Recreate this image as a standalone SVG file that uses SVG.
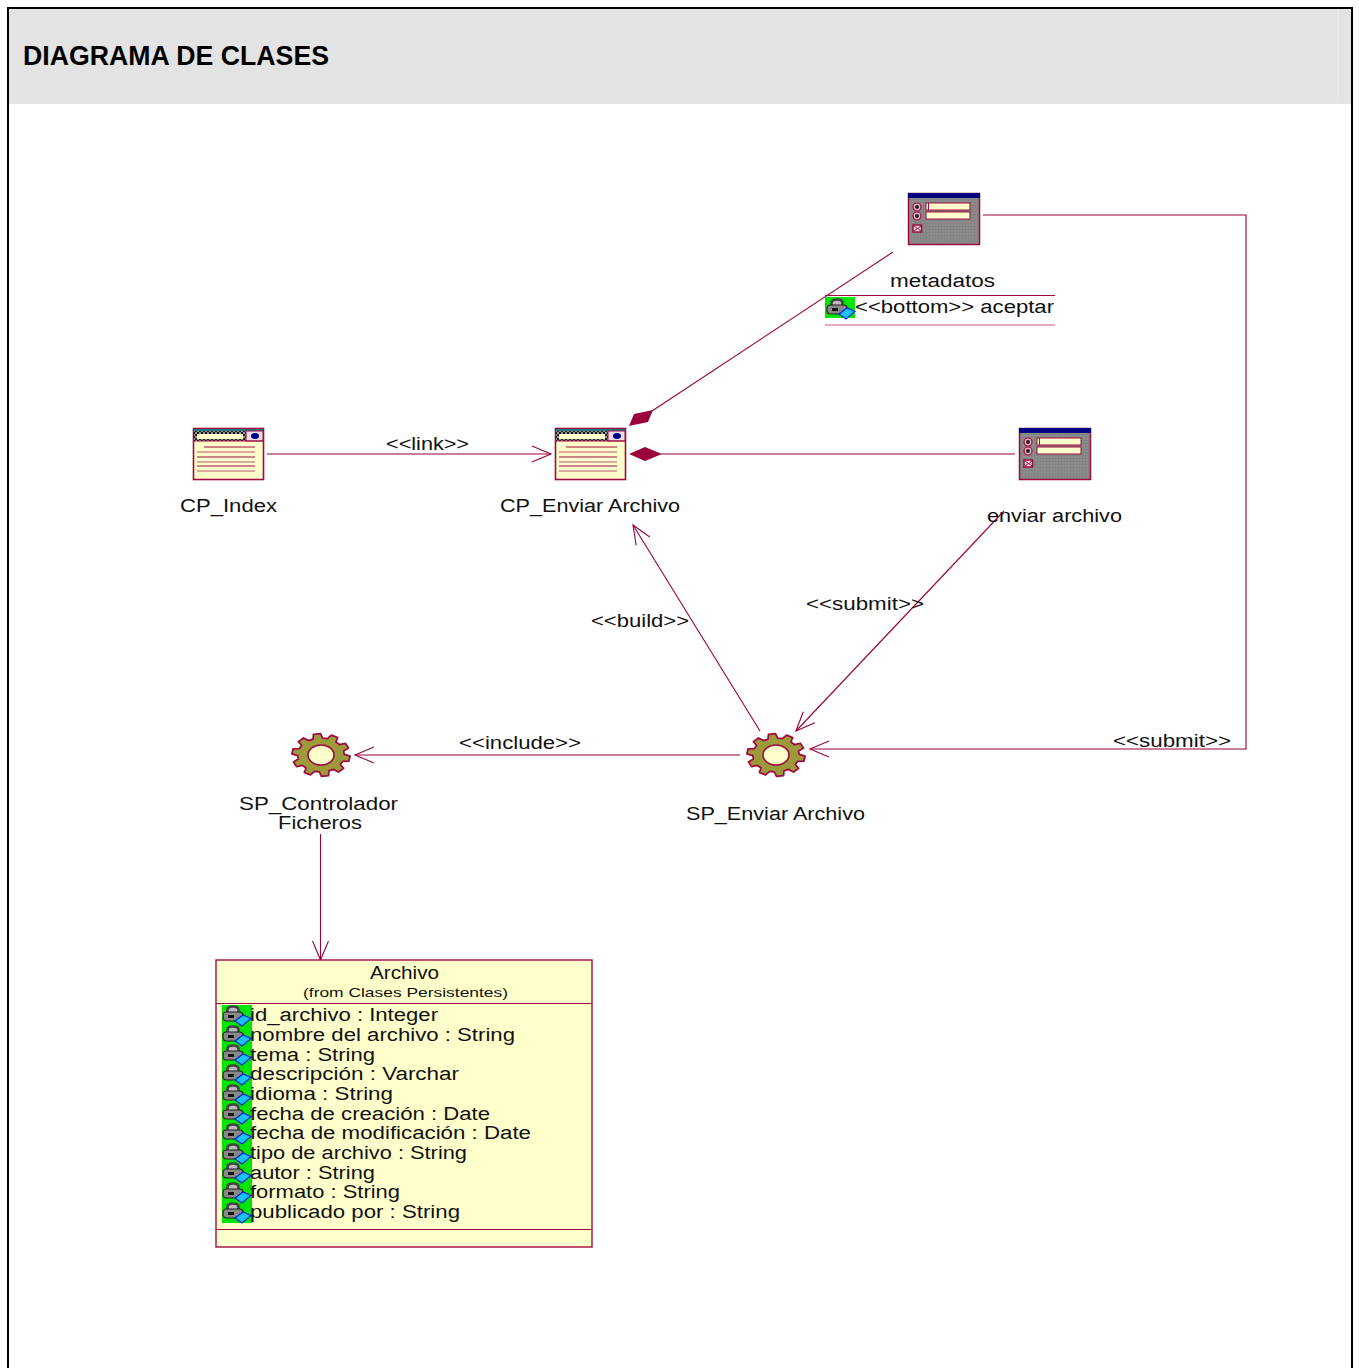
<svg xmlns="http://www.w3.org/2000/svg" width="1359" height="1368" viewBox="0 0 1359 1368">
<style>
text{font-family:"Liberation Sans",Arial,sans-serif;font-size:18px;fill:#111}
.t{font-size:27px;font-weight:bold;fill:#000}
.s{font-size:13px}
.c{fill:none;stroke:#99003d;stroke-width:1.1}
.d{fill:#99003d;stroke:none}
.l{stroke:#a00a42;stroke-width:1.2}
.lp{stroke:#d08a90;stroke-width:1.6}
</style>
<defs>
<marker id="open" markerWidth="22" markerHeight="18" refX="20" refY="9" orient="auto" markerUnits="userSpaceOnUse"><path d="M1 1 L20 9 L1 17" fill="none" stroke="#99003d" stroke-width="1.1"/></marker>
<pattern id="grid" width="3" height="3" patternUnits="userSpaceOnUse"><rect width="3" height="3" fill="#8c8c8c"/><path d="M0 0H3M0 0V3" stroke="#7e7e7e" stroke-width="1"/></pattern>
<pattern id="chk" width="4" height="4" patternUnits="userSpaceOnUse"><rect width="4" height="4" fill="#999"/><rect width="2" height="2" fill="#111"/><rect x="2" y="2" width="2" height="2" fill="#222"/></pattern>
<g id="form">
<rect x="0.5" y="0.5" width="71" height="51" fill="url(#grid)" stroke="#a00a42" stroke-width="1.5"/>
<rect x="0" y="0" width="72" height="5" fill="#000080"/>
<circle cx="9" cy="14" r="4" fill="#e8b0c0" stroke="#a00a42" stroke-width="1.2"/>
<circle cx="9" cy="14" r="2" fill="#222"/>
<circle cx="9" cy="23" r="4" fill="#e8b0c0" stroke="#a00a42" stroke-width="1.2"/>
<circle cx="9" cy="23" r="2" fill="#222"/>
<rect x="18" y="10" width="44" height="7" fill="#ffffcc" stroke="#a00a42"/>
<path d="M20.500 10V17" stroke="#a00a42"/>
<rect x="18" y="19" width="44" height="7" fill="#ffffcc" stroke="#a00a42"/>
<rect x="5" y="32" width="8.500" height="7" fill="#f4e0e0" stroke="#a00a42" stroke-width="1.5"/>
<path d="M6 33L13 38M13 33L6 38" stroke="#a00a42"/>
</g>
<g id="page">
<rect x="0.5" y="0.5" width="70" height="51" fill="#ffffcc" stroke="#a00a42" stroke-width="1.600"/>
<rect x="1" y="1" width="69" height="2" fill="#1a7a80"/>
<rect x="1" y="3" width="52" height="10" fill="url(#chk)"/>
<rect x="4" y="6" width="46" height="5" fill="#ffffcc"/>
<rect x="53" y="3" width="17" height="10" fill="#e8dce8" stroke="#a00a42"/>
<ellipse cx="62" cy="8" rx="4" ry="3" fill="#00008b"/>
<path d="M1 13H70" stroke="#a00a42"/>
<path class="l" d="M11 19H62M4 29H62M4 38H62"/>
<path class="lp" d="M4 24H62M4 34H62M4 43H62"/>
</g>
<g id="gear">
<polygon transform="scale(0.97)" points="24,-0.6 30,1.2 28.7,6.4 22.3,6.6 19.9,9.8 23.3,13.8 18.1,17.6 12.7,14.8 8.2,16.4 7.8,21.3 0.5,22 -1.7,17.5 -6.6,16.8 -10.8,20.5 -17.2,18 -15.4,13.4 -18.9,10.8 -25.2,12 -28.4,7.2 -23.3,4.2 -24,0.6 -30,-1.2 -28.7,-6.4 -22.3,-6.6 -19.9,-9.8 -23.3,-13.8 -18.1,-17.6 -12.7,-14.8 -8.2,-16.4 -7.8,-21.3 -0.5,-22 1.7,-17.5 6.6,-16.8 10.8,-20.5 17.2,-18 15.4,-13.4 18.9,-10.8 25.2,-12 28.4,-7.2 23.3,-4.2" fill="#9c9a3a" stroke="#a00a42" stroke-width="1.8" stroke-linejoin="round"/>
<ellipse cx="0" cy="0" rx="13" ry="10" fill="#ffffcc" stroke="#a00a42" stroke-width="1.6"/>
</g>
<g id="lock">
<path d="M5.500 8V5Q5.500 1.500 11 1.500Q16.500 1.500 16.500 5V8" fill="#bbb" stroke="#444" stroke-width="2.600"/>
<rect x="1" y="7" width="20" height="9" rx="3.500" fill="#888" stroke="#222" stroke-width="1.200"/>
<rect x="6" y="10" width="6" height="3" fill="#111"/>
<polygon points="13,16 21,10 29,13.500 20,21" fill="#19c3ff" stroke="#0022dd" stroke-width="1.200"/>
</g>
</defs>
<rect width="1359" height="1368" fill="#ffffff"/>
<g id="frame">
<rect x="9" y="9" width="1342" height="95" fill="#e3e3e3"/>
<path d="M1338 9V102" stroke="#ececec" stroke-width="1"/>
<path d="M8 1368V8H1352V1368" fill="none" stroke="#000" stroke-width="2"/>
<text class="t" x="23" y="65" textLength="306" lengthAdjust="spacingAndGlyphs">DIAGRAMA DE CLASES</text>
</g>
<g id="connectors">
<path class="c" d="M267 454H551" marker-end="url(#open)"/>
<path class="c" d="M893 252L652 411"/>
<polygon class="d" points="629,426 634,414 653,410 648,422"/>
<path class="c" d="M661 454H1015"/>
<polygon class="d" points="629,454 645,447 662,454 645,461"/>
<path class="c" d="M983 215H1246V749H810" marker-end="url(#open)"/>
<path class="c" d="M1004 511L796 731" marker-end="url(#open)"/>
<path class="c" d="M760 731L633 525" marker-end="url(#open)"/>
<path class="c" d="M740 755H355" marker-end="url(#open)"/>
<path class="c" d="M320.500 834V960" marker-end="url(#open)"/>
<text x="386" y="449.600" textLength="83" lengthAdjust="spacingAndGlyphs">&lt;&lt;link&gt;&gt;</text>
<text x="806" y="609.600" textLength="118" lengthAdjust="spacingAndGlyphs">&lt;&lt;submit&gt;&gt;</text>
<text x="591" y="626.600" textLength="98" lengthAdjust="spacingAndGlyphs">&lt;&lt;build&gt;&gt;</text>
<text x="459" y="748.600" textLength="122" lengthAdjust="spacingAndGlyphs">&lt;&lt;include&gt;&gt;</text>
<text x="1113" y="746.600" textLength="118" lengthAdjust="spacingAndGlyphs">&lt;&lt;submit&gt;&gt;</text>
</g>
<g id="metadatos">
<use href="#form" x="908" y="193"/>
<text x="890" y="286.600" textLength="105" lengthAdjust="spacingAndGlyphs">metadatos</text>
<path d="M825 295.500H1055" stroke="#a00a42"/>
<rect x="825" y="297" width="30" height="21" fill="#00e600"/>
<use href="#lock" x="826" y="298"/>
<text x="855" y="312.600" textLength="199" lengthAdjust="spacingAndGlyphs">&lt;&lt;bottom&gt;&gt; aceptar</text>
<path d="M825 325H1055" stroke="#c8587a" stroke-width="1.200"/>
</g>
<g id="enviar-archivo">
<use href="#form" x="1019" y="428"/>
<text x="987" y="521.600" textLength="135" lengthAdjust="spacingAndGlyphs">enviar archivo</text>
</g>
<g id="cp-index">
<use href="#page" x="193" y="428"/>
<text x="180" y="511.600" textLength="97" lengthAdjust="spacingAndGlyphs">CP_Index</text>
</g>
<g id="cp-enviar-archivo">
<use href="#page" x="555" y="428"/>
<text x="500" y="511.600" textLength="180" lengthAdjust="spacingAndGlyphs">CP_Enviar Archivo</text>
</g>
<g id="sp-controlador">
<use href="#gear" x="321" y="755"/>
<text x="239" y="809.600" textLength="159" lengthAdjust="spacingAndGlyphs">SP_Controlador</text>
<text x="278" y="828.600" textLength="84" lengthAdjust="spacingAndGlyphs">Ficheros</text>
</g>
<g id="sp-enviar-archivo">
<use href="#gear" x="776" y="755"/>
<text x="686" y="819.600" textLength="179" lengthAdjust="spacingAndGlyphs">SP_Enviar Archivo</text>
</g>
<g id="archivo">
<rect x="216" y="960" width="376" height="287" fill="#ffffcc" stroke="#a00a42" stroke-width="1.400"/>
<path d="M216 1003.500H592M216 1229.500H592" stroke="#a00a42"/>
<text x="370" y="978.600" textLength="69" lengthAdjust="spacingAndGlyphs">Archivo</text>
<text class="s" x="303" y="996.600" textLength="205" lengthAdjust="spacingAndGlyphs">(from Clases Persistentes)</text>
<rect x="222" y="1005" width="30" height="218" fill="#00e600"/>
<use href="#lock" x="222" y="1005"/>
<use href="#lock" x="222" y="1025"/>
<use href="#lock" x="222" y="1044"/>
<use href="#lock" x="222" y="1064"/>
<use href="#lock" x="222" y="1084"/>
<use href="#lock" x="222" y="1103"/>
<use href="#lock" x="222" y="1123"/>
<use href="#lock" x="222" y="1143"/>
<use href="#lock" x="222" y="1162"/>
<use href="#lock" x="222" y="1182"/>
<use href="#lock" x="222" y="1202"/>
<text x="250" y="1020.600" textLength="188" lengthAdjust="spacingAndGlyphs">id_archivo : Integer</text>
<text x="250" y="1040.600" textLength="265" lengthAdjust="spacingAndGlyphs">nombre del archivo : String</text>
<text x="250" y="1060.600" textLength="125" lengthAdjust="spacingAndGlyphs">tema : String</text>
<text x="250" y="1079.600" textLength="209" lengthAdjust="spacingAndGlyphs">descripción : Varchar</text>
<text x="250" y="1099.600" textLength="143" lengthAdjust="spacingAndGlyphs">idioma : String</text>
<text x="250" y="1119.600" textLength="240" lengthAdjust="spacingAndGlyphs">fecha de creación : Date</text>
<text x="250" y="1138.600" textLength="281" lengthAdjust="spacingAndGlyphs">fecha de modificación : Date</text>
<text x="250" y="1158.600" textLength="217" lengthAdjust="spacingAndGlyphs">tipo de archivo : String</text>
<text x="250" y="1178.600" textLength="125" lengthAdjust="spacingAndGlyphs">autor : String</text>
<text x="250" y="1197.600" textLength="150" lengthAdjust="spacingAndGlyphs">formato : String</text>
<text x="250" y="1217.600" textLength="210" lengthAdjust="spacingAndGlyphs">publicado por : String</text>
</g>
</svg>
